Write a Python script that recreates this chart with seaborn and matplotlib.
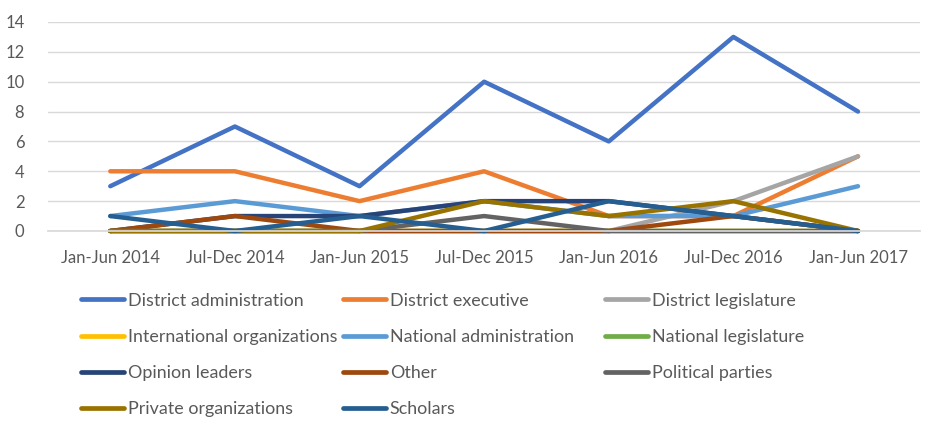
import pandas as pd
import matplotlib
matplotlib.use("Agg")
import matplotlib.pyplot as plt
import seaborn as sns

sns.set_theme(style="white")
plt.rcParams["font.family"] = ["Lato", "DejaVu Sans"]

# ── Data ──────────────────────────────────────────────────────────────────────
periods = ["Jan-Jun 2014", "Jul-Dec 2014", "Jan-Jun 2015", "Jul-Dec 2015",
           "Jan-Jun 2016", "Jul-Dec 2016", "Jan-Jun 2017"]

district_administration = [3, 7, 3, 10, 6, 13, 8]
district_executive = [4, 4, 2, 4, 1, 1, 5]
district_legislature = [0, 0, 0, 0, 0, 2, 5]
international_organizations = [0, 0, 0, 0, 0, 0, 0]
national_administration = [1, 2, 1, 2, 1, 1, 3]
national_legislature = [0, 0, 0, 0, 0, 0, 0]
opinion_leaders = [0, 1, 1, 2, 2, 1, 0]
other = [0, 1, 0, 0, 0, 1, 0]
political_parties = [0, 0, 0, 1, 0, 0, 0]
private_organizations = [0, 0, 0, 2, 1, 2, 0]
scholars = [1, 0, 1, 0, 2, 1, 0]

series = {
    "District administration": district_administration,
    "District executive": district_executive,
    "District legislature": district_legislature,
    "International organizations": international_organizations,
    "National administration": national_administration,
    "National legislature": national_legislature,
    "Opinion leaders": opinion_leaders,
    "Other": other,
    "Political parties": political_parties,
    "Private organizations": private_organizations,
    "Scholars": scholars,
}

colours = ["#4472C4", "#ED7D31", "#A5A5A5", "#FFC000", "#5B9BD5", "#70AD47",
           "#264478", "#9E480E", "#636363", "#997300", "#255E91"]

rows = []
for name, vals in series.items():
    for p, v in zip(periods, vals):
        rows.append({"period": p, "count": v, "source": name})
df = pd.DataFrame(rows)

# ── Plot ──────────────────────────────────────────────────────────────────────
fig = plt.figure(figsize=(9.37, 4.28), dpi=100)
ax = fig.add_axes([0.0512, 0.4603, 0.931, 0.4883])

names = list(series.keys())
sns.lineplot(data=df, x="period", y="count", hue="source", hue_order=names,
             palette=colours, linewidth=3.2, sort=False, ax=ax,
             solid_capstyle="round", solid_joinstyle="round", clip_on=False)

ax.set_xlim(-0.5, len(periods) - 0.5)
ax.set_ylim(0, 14)
ax.set_yticks(range(0, 15, 2))
ax.set_xlabel("")
ax.set_ylabel("")
ax.grid(axis="y", color="#D9D9D9", linewidth=1)
ax.set_axisbelow(True)
for side in ["top", "left", "right"]:
    ax.spines[side].set_visible(False)
ax.spines["bottom"].set_color("#D9D9D9")
ax.tick_params(axis="both", length=0, labelsize=12, colors="#595959")
ax.tick_params(axis="y", pad=17)
ax.tick_params(axis="x", pad=14)

# Legend: equal-width columns filled row by row, like the original
handles, labels = ax.get_legend_handles_labels()
ax.get_legend().remove()
col_x = [0.0864, 0.366, 0.6457]
for c, x0 in enumerate(col_x):
    idx = list(range(c, len(labels), 3))
    leg = fig.legend([handles[i] for i in idx], [labels[i] for i in idx],
                     loc="upper left", bbox_to_anchor=(x0, 0.316),
                     frameon=False, fontsize=12.9, handlelength=2.4,
                     handletextpad=0.22, labelspacing=1.13,
                     borderaxespad=0, borderpad=0)
    for t in leg.get_texts():
        t.set_color("#595959")
    for h in leg.get_lines():
        h.set_linewidth(3.4)
        h.set_solid_capstyle("round")

fig.savefig("out.png", dpi=100)
